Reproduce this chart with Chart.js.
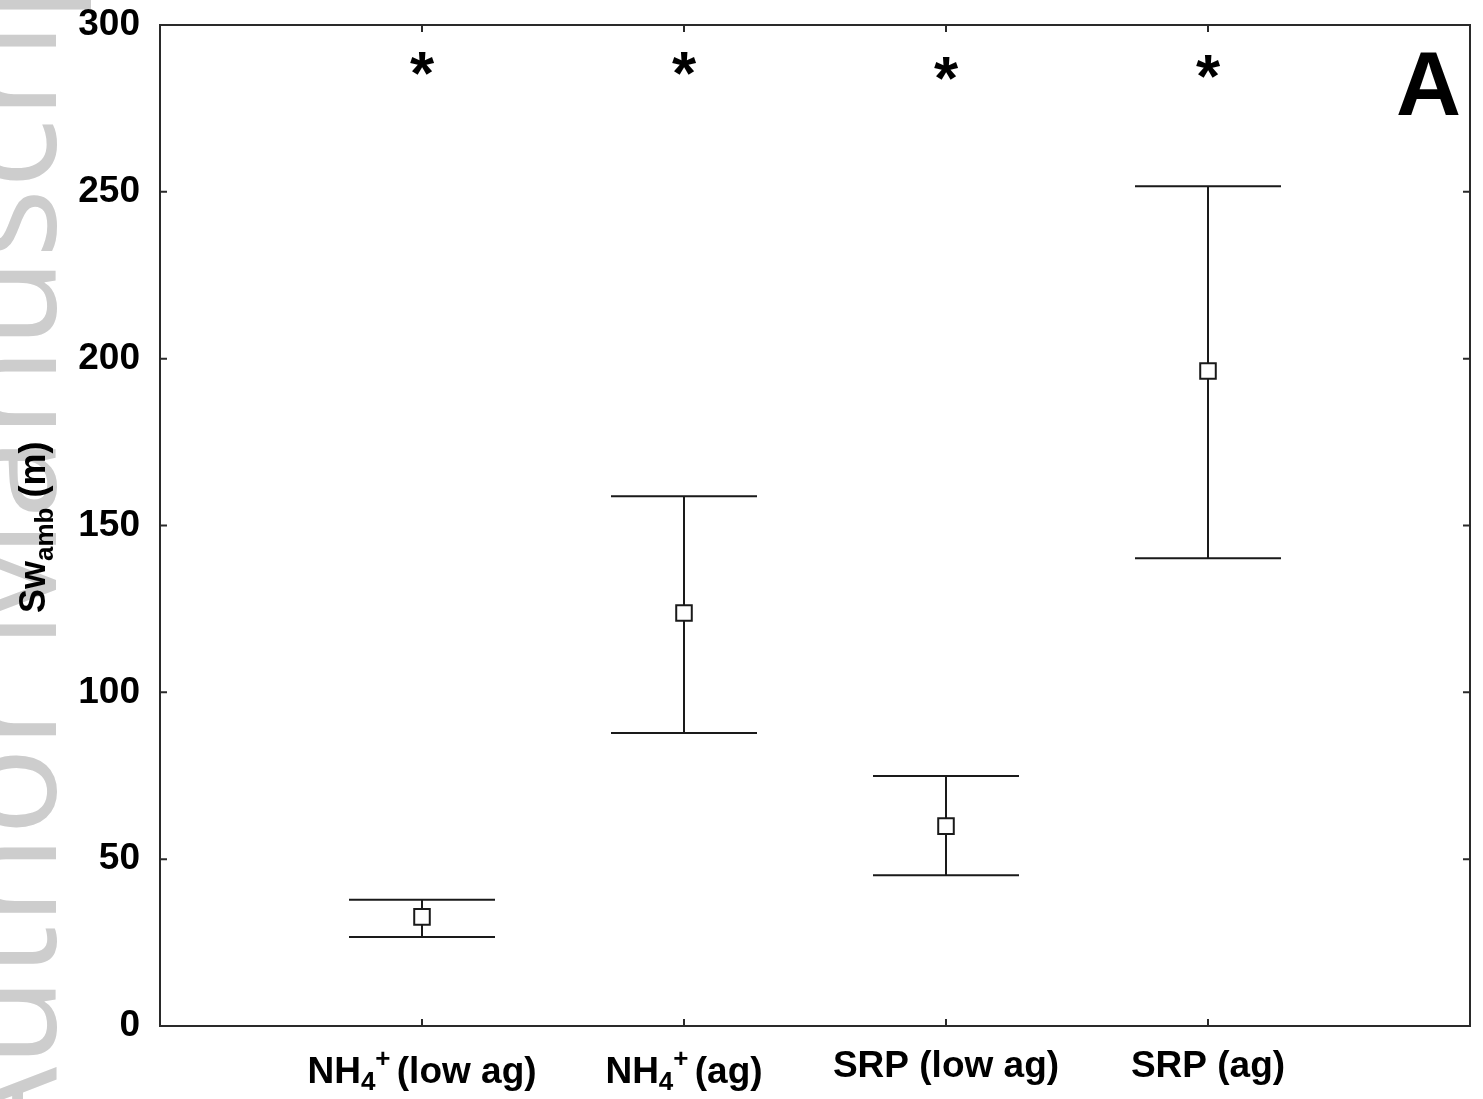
<!DOCTYPE html>
<html>
<head>
<meta charset="utf-8">
<script src="https://cdn.jsdelivr.net/npm/chart.js@4.4.1/dist/chart.umd.min.js"></script>
<style>
  html, body { margin: 0; padding: 0; background: #fff; }
  #wrap { width: 1483px; height: 1099px; }
</style>
</head>
<body>
<div id="wrap"><canvas id="chart"></canvas></div>
<script>
// Sw_amb per nutrient / land-use group
const positions = [1, 2, 3, 4];
const categoryLabels = [
  [{ t: 'NH' }, { t: '4', sub: true }, { t: '+', sup: true }, { t: ' (low ag)' }],
  [{ t: 'NH' }, { t: '4', sub: true }, { t: '+', sup: true }, { t: ' (ag)' }],
  [{ t: 'SRP (low ag)' }],
  [{ t: 'SRP (ag)' }],
];
const means = [32.7, 123.8, 59.9, 196.3];
const upper = [37.8, 158.8, 74.9, 251.7];
const lower = [26.7, 87.8, 45.2, 140.2];
const starY = [288.6, 288.6, 287.1, 287.7];
const yTickValues = [0, 50, 100, 150, 200, 250, 300];

const FONT = '"Liberation Sans", Arial, sans-serif';
const INK = '#1a1a1a';

const watermark = {
  id: 'watermark',
  beforeDraw(chart) {
    const { ctx } = chart;
    ctx.save();
    ctx.fillStyle = '#cdcdcd';
    ctx.font = '150px "Open Sans", sans-serif';
    const word = ctx.measureText('Manuscri').width;
    const size = 150 * (650 - 22) / word;
    ctx.font = size + 'px "Open Sans", sans-serif';
    const lead = ctx.measureText('Author ').width;
    ctx.translate(56, 650 + lead);
    ctx.rotate(-Math.PI / 2);
    ctx.textBaseline = 'alphabetic';
    ctx.fillText('Author Manuscript', 0, 0);
    ctx.restore();
  },
};

const errorBars = {
  id: 'errorBars',
  beforeDatasetsDraw(chart) {
    const { ctx, scales: { x, y } } = chart;
    ctx.save();
    ctx.strokeStyle = INK;
    ctx.lineWidth = 2;
    positions.forEach((p, i) => {
      const px = x.getPixelForValue(p);
      const yu = y.getPixelForValue(upper[i]);
      const yl = y.getPixelForValue(lower[i]);
      ctx.beginPath();
      ctx.moveTo(px, yu);
      ctx.lineTo(px, yl);
      ctx.moveTo(px - 73, yu);
      ctx.lineTo(px + 73, yu);
      ctx.moveTo(px - 73, yl);
      ctx.lineTo(px + 73, yl);
      ctx.stroke();
    });
    // significance stars
    ctx.fillStyle = '#000';
    ctx.font = 'bold 62px ' + FONT;
    ctx.textAlign = 'center';
    ctx.textBaseline = 'alphabetic';
    const m = ctx.measureText('*');
    const mid = (m.actualBoundingBoxAscent - m.actualBoundingBoxDescent) / 2;
    positions.forEach((p, i) => {
      ctx.fillText('*', x.getPixelForValue(p), y.getPixelForValue(starY[i]) + mid);
    });
    ctx.restore();
  },
};

const frame = {
  id: 'frame',
  afterDraw(chart) {
    const { ctx, chartArea: a, scales: { x, y } } = chart;
    ctx.save();
    ctx.strokeStyle = '#2a2a2a';
    ctx.lineWidth = 2;
    ctx.strokeRect(a.left, a.top, a.right - a.left, a.bottom - a.top);
    ctx.beginPath();
    yTickValues.slice(1, -1).forEach((v) => {
      const py = y.getPixelForValue(v);
      ctx.moveTo(a.left, py);
      ctx.lineTo(a.left + 7, py);
      ctx.moveTo(a.right, py);
      ctx.lineTo(a.right - 7, py);
    });
    positions.forEach((p) => {
      const px = x.getPixelForValue(p);
      ctx.moveTo(px, a.top);
      ctx.lineTo(px, a.top + 7);
      ctx.moveTo(px, a.bottom);
      ctx.lineTo(px, a.bottom - 7);
    });
    ctx.stroke();

    // x category labels with sub/superscripts
    ctx.fillStyle = '#000';
    ctx.textBaseline = 'alphabetic';
    ctx.textAlign = 'left';
    const big = 'bold 37px ' + FONT;
    const small = 'bold 26px ' + FONT;
    categoryLabels.forEach((parts, i) => {
      const hasSub = parts.some((s) => s.sub);
      let w = 0;
      parts.forEach((s) => {
        ctx.font = s.sub || s.sup ? small : big;
        const sw = ctx.measureText(s.t).width;
        w += s.sup ? Math.max(0, sw - 4) : sw;
      });
      let cx = x.getPixelForValue(positions[i]) - w / 2;
      const base = hasSub ? 1083 : 1077;
      parts.forEach((s) => {
        ctx.font = s.sub || s.sup ? small : big;
        const sw = ctx.measureText(s.t).width;
        if (s.sub) {
          ctx.fillText(s.t, cx, base + 7);
          cx += sw;
        } else if (s.sup) {
          ctx.fillText(s.t, cx, base - 16);
          cx += sw - 4;
        } else {
          ctx.fillText(s.t, cx, base);
          cx += sw;
        }
      });
    });

    // y axis title: Sw_amb (m)
    ctx.save();
    ctx.translate(45, 613);
    ctx.rotate(-Math.PI / 2);
    ctx.font = 'bold 36px ' + FONT;
    ctx.fillText('Sw', 0, 0);
    let tx = ctx.measureText('Sw').width;
    ctx.font = 'bold 26px ' + FONT;
    ctx.fillText('amb', tx, 8);
    tx += ctx.measureText('amb').width;
    ctx.font = 'bold 36px ' + FONT;
    ctx.fillText(' (m)', tx, 0);
    ctx.restore();

    // panel letter
    ctx.font = 'bold 90px ' + FONT;
    ctx.textAlign = 'right';
    ctx.fillText('A', 1461, 115);
    ctx.restore();
  },
};

new Chart(document.getElementById('chart'), {
  type: 'scatter',
  data: {
    datasets: [
      {
        data: positions.map((p, i) => ({ x: p, y: means[i] })),
        pointStyle: 'rect',
        pointRadius: 11,
        pointHoverRadius: 11,
        pointBackgroundColor: '#fff',
        pointBorderColor: INK,
        pointBorderWidth: 2,
        showLine: false,
      },
    ],
  },
  options: {
    responsive: true,
    maintainAspectRatio: false,
    animation: false,
    layout: { padding: { top: 25, right: 13, left: 0, bottom: 0 } },
    plugins: {
      legend: { display: false },
      tooltip: { enabled: false },
      title: { display: false },
    },
    scales: {
      x: {
        type: 'linear',
        min: 0,
        max: 5,
        grid: { display: false, drawTicks: false },
        border: { display: false },
        ticks: { display: false },
        afterFit: (s) => { s.height = 73; },
      },
      y: {
        min: 0,
        max: 300,
        grid: { display: false, drawTicks: false },
        border: { display: false },
        ticks: {
          stepSize: 50,
          padding: 20,
          color: '#000',
          font: { family: FONT, size: 37, weight: 'bold' },
        },
        afterFit: (s) => {
          s.width = 160;
          s.paddingTop = 0;
          s.paddingBottom = 0;
        },
      },
    },
  },
  plugins: [watermark, errorBars, frame],
});
</script>
</body>
</html>
